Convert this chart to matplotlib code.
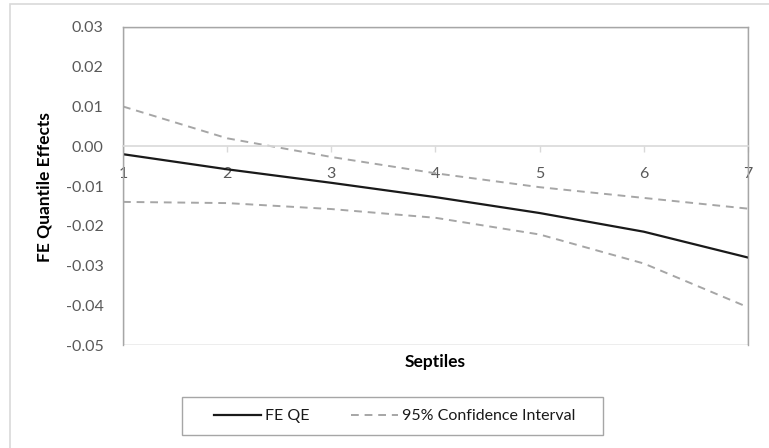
import numpy as np
import matplotlib.pyplot as plt
from matplotlib.patches import Rectangle

# Septiles and estimates
septiles = [1, 2, 3, 4, 5, 6, 7]
fe_qe = [-0.0020, -0.0058, -0.0092, -0.0128, -0.0168, -0.0215, -0.0280]
ci_upper = [0.0100, 0.0020, -0.0027, -0.0068, -0.0103, -0.0130, -0.0157]
ci_lower = [-0.0140, -0.0143, -0.0158, -0.0180, -0.0222, -0.0295, -0.0405]
y_ticks = [0.03, 0.02, 0.01, 0.00, -0.01, -0.02, -0.03, -0.04, -0.05]

plt.rcParams['font.family'] = ['Lato', 'DejaVu Sans']
W, H = 769, 448

fig = plt.figure(figsize=(W / 100, H / 100), dpi=100)
fig.patches.append(Rectangle((10 / W, -0.05), 1.2, 1.0 - 4 / H + 0.05,
                             transform=fig.transFigure, fill=False,
                             edgecolor='#d9d9d9', linewidth=1.2))

ax = fig.add_axes([123 / W, 1 - 345 / H, 625 / W, 318 / H])

ax.plot(septiles, fe_qe, color='#1a1a1a', linewidth=1.6, label='FE QE')
ax.plot(septiles, ci_upper, color='#a6a6a6', linewidth=1.4,
        linestyle=(0, (4, 3)), label='95% Confidence Interval')
ax.plot(septiles, ci_lower, color='#a6a6a6', linewidth=1.4,
        linestyle=(0, (4, 3)))

ax.set_xlim(1, 7)
ax.set_ylim(-0.05, 0.03)
ax.set_yticks(y_ticks)
ax.set_yticklabels([f'{v:.2f}' for v in y_ticks])
ax.set_xticks(septiles)

for s in ['left', 'right', 'top']:
    ax.spines[s].set_color('#a6a6a6')
    ax.spines[s].set_linewidth(1.0)
ax.spines['bottom'].set_position(('data', 0))
ax.spines['bottom'].set_color('#d9d9d9')
ax.spines['bottom'].set_linewidth(1.2)
# frame at bottom of plot area
ax.add_patch(Rectangle((0, 0), 1, 1, transform=ax.transAxes, fill=False,
                       edgecolor='#a6a6a6', linewidth=1.0, zorder=0))

ax.tick_params(axis='y', length=0, pad=14, labelsize=11.5, labelcolor='#595959')
ax.tick_params(axis='x', direction='out', length=4, width=1.0, color='#d9d9d9',
               pad=11, labelsize=11.5, labelcolor='#595959')

fig.text(45 / W, 1 - 187 / H, 'FE Quantile Effects', rotation=90,
         ha='center', va='center', fontsize=12.5, fontweight='bold')
fig.text(435 / W, 1 - 362 / H, 'Septiles', ha='center', va='center',
         fontsize=12.5, fontweight='bold')

# legend box drawn by hand, entries without frame
fig.patches.append(Rectangle((182 / W, 1 - 435 / H), 421 / W, 38 / H,
                             transform=fig.transFigure, fill=False,
                             edgecolor='#a6a6a6', linewidth=1.0))
fig.legend(loc='center', bbox_to_anchor=(395 / W, 1 - 416 / H), ncol=2,
           fontsize=11.5, frameon=False, labelcolor='#1a1a1a',
           handlelength=2.9, handletextpad=0.3, columnspacing=2.6)

fig.savefig('out.png', dpi=100)
